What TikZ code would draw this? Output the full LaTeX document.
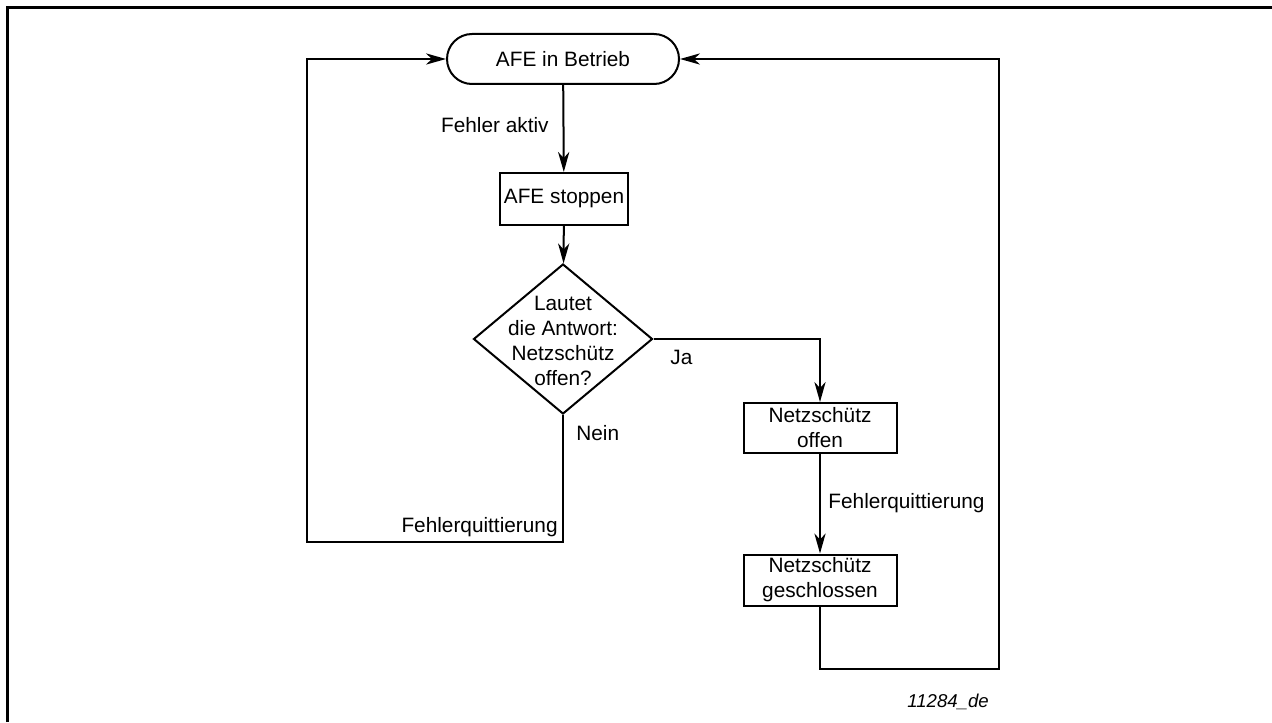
\documentclass[tikz,border=0pt]{standalone}
\usepackage{fontspec}
\setmainfont{Liberation Sans}
\usetikzlibrary{arrows.meta,shapes.geometric,shapes.misc}
\begin{document}
\begin{tikzpicture}[x=0.5pt,y=-0.5pt,
  font=\fontsize{10.4}{12.5}\selectfont,
  flow/.style={line width=1pt,-{Stealth[length=10pt,width=5.6pt,inset=3pt]}},
  term/.style={rounded rectangle,draw,line width=1pt,minimum width=116pt,minimum height=25pt,inner sep=0pt},
  box/.style={draw,line width=1pt,align=center,inner sep=0pt},
  ask/.style={diamond,draw,line width=1pt,minimum width=89.5pt,minimum height=75pt,inner sep=0pt},
  lbl/.style={inner sep=0pt}]
\useasboundingbox (0,0) rectangle (1272,722);
\draw[line width=1.5pt] (7,722) -- (7,8) -- (1272,8);
\node[term] (run) at (563,59) {AFE in Betrieb};
\node[box,minimum width=64pt,minimum height=26pt] (stop) at (564,199) {AFE stoppen};
\node[ask] (ask) at (563,339) {};
\node[lbl,align=center] (asktext) at (563,341) {Lautet\\die Antwort:\\Netzschütz\\offen?};
\node[box,minimum width=76.5pt,minimum height=25pt] (open) at (820,428) {Netzschütz\\offen};
\node[box,minimum width=76.5pt,minimum height=25.5pt] (closed) at (820,580) {Netzschütz\\geschlossen};
\coordinate (nb) at (307,542);
\coordinate (jb) at (999,669);
\node[lbl,anchor=east] (aktiv) at (549,125) {Fehler aktiv};
\node[lbl,anchor=west] (ja) at (670,357) {Ja};
\node[lbl,anchor=west] (nein) at (576,433) {Nein};
\node[lbl,anchor=east] (quitl) at (558,527) {Fehlerquittierung};
\node[lbl,anchor=west] (quitr) at (828,503) {Fehlerquittierung};
\node[lbl,anchor=west,font=\fontsize{9.3}{11}\selectfont\itshape] (fig) at (907,702) {11284\_de};
\draw[flow] (run) -- (stop);
\draw[flow] (stop) -- (ask);
\draw[flow] (ask.east) -| (open.north);
\draw[flow] (open) -- (closed);
\draw[flow] (ask.south) |- (nb) |- (run.west);
\draw[flow] (closed.south) |- (jb) |- (run.east);
\end{tikzpicture}
\end{document}
